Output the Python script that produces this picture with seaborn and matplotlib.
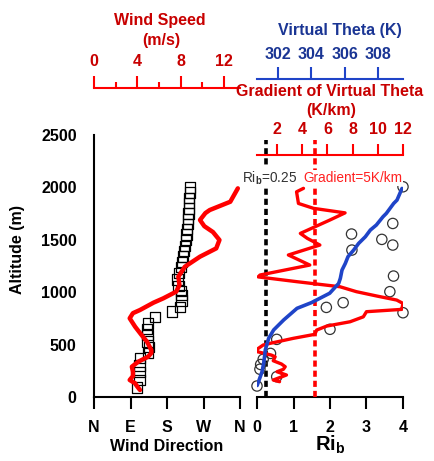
import matplotlib
matplotlib.use("Agg")
import matplotlib.pyplot as plt
from matplotlib.ticker import FixedLocator
import pandas as pd
import seaborn as sns

# ---------------- data ----------------
# wind direction profile (degrees from north)
dir_alt = [90, 160, 240, 300, 370, 420, 480, 530, 590, 650, 700, 765, 815, 860,
           920, 970, 1010, 1060, 1120, 1180, 1240, 1290, 1340, 1390, 1440, 1500,
           1550, 1600, 1650, 1700, 1750, 1800, 1850, 1900, 1950, 2000]
dir_deg = [106, 112, 112, 112, 113, 133, 136, 132, 132, 130, 134, 150, 192, 212,
           216, 216, 214, 208, 206, 210, 214, 217, 219, 222, 224, 227,
           228, 229, 231, 231, 233, 234, 234, 235, 236, 236]

# wind speed profile (m/s)
ws_alt = [67, 100, 131, 162, 200, 241, 289, 337, 384, 420, 448, 528, 591, 671,
          751, 800, 830, 900, 941, 1005, 1068, 1148, 1243, 1339, 1418, 1498,
          1574, 1630, 1689, 1755, 1784, 1863, 1991]
ws_val = [4.25, 4.0, 3.8, 3.3, 3.6, 3.6, 3.5, 4.1, 5.0, 5.3, 5.3, 4.9, 4.4, 3.8,
          3.3, 3.6, 4.25, 5.5, 6.4, 7.6, 7.9, 7.8, 8.4, 9.8, 11.3, 11.6,
          11.0, 10.2, 9.8, 10.3, 10.7, 12.6, 13.3]

# bulk Richardson number
ri_alt = [105, 194, 265, 310, 360, 416, 550, 646, 804, 855, 900, 1005, 1154,
          1402, 1450, 1504, 1555, 1656, 2006]
ri_val = [0.0, 0.54, 0.08, 0.10, 0.17, 0.37, 0.54, 2.0, 4.0, 1.9, 2.36, 3.64,
          3.74, 2.6, 3.72, 3.42, 2.59, 3.72, 4.0]

# virtual potential temperature (K)
th_alt = [110, 240, 320, 450, 560, 640, 735, 846, 900, 990, 1084, 1132, 1211,
          1275, 1339, 1402, 1466, 1529, 1593, 1641, 1720, 1752, 1847, 1879, 1990]
th_val = [300.75, 301.04, 301.14, 301.24, 301.44, 301.74, 302.34, 303.14, 304.0,
          305.1, 305.64, 305.74, 305.84, 306.04, 306.2, 306.54, 306.84, 307.24,
          307.54, 307.9, 308.3, 308.5, 308.94, 309.14, 309.44]

# gradient of virtual potential temperature (K/km)
gr_alt = [146, 162, 210, 241, 264, 289, 315, 346, 384, 400, 432, 454, 496, 512,
          560, 598, 639, 677, 718, 765, 814, 836, 893, 925, 964, 1005, 1052,
          1100, 1146, 1164, 1259, 1355, 1450, 1514, 1561, 1689, 1757, 1800,
          1847, 1958, 1991]
gr_val = [2.2, 1.7, 2.75, 2.0, 2.5, 2.65, 2.35, 1.7, 1.85, 1.55, 0.45, 0.4, 0.9,
          1.45, 3.3, 5.0, 5.15, 5.95, 7.8, 8.85, 9.1, 11.9, 12.0, 11.5, 9.9,
          8.3, 7.0, 3.6, 0.5, 0.65, 4.6, 2.9, 5.4, 4.4, 3.85, 6.2, 7.4, 4.9,
          3.7, 3.55, 4.1]

# reference thresholds
ri_crit = 0.25
grad_crit = 5.0
ref_top = 2450

dir_ticks = [0, 90, 180, 270, 360]
dir_labels = ["N", "E", "S", "W", "N"]
alt_ticks = [0, 500, 1000, 1500, 2000, 2500]
ws_ticks = [0, 4, 8, 12]
ws_minor = [2, 6, 10]
ri_ticks = [0, 1, 2, 3, 4]
th_ticks = [302, 304, 306, 308]
gr_ticks = [2, 4, 6, 8, 10, 12]

df_dir = pd.DataFrame({"alt": dir_alt, "deg": dir_deg})
df_ws = pd.DataFrame({"alt": ws_alt, "ws": ws_val})
df_ri = pd.DataFrame({"alt": ri_alt, "ri": ri_val})
df_th = pd.DataFrame({"alt": th_alt, "th": th_val})
df_gr = pd.DataFrame({"alt": gr_alt, "gr": gr_val})

# ---------------- style ----------------
sns.set_theme(style="white")
plt.rcParams["font.family"] = ["Liberation Sans", "DejaVu Sans"]
plt.rcParams["font.weight"] = "bold"
plt.rcParams["mathtext.fontset"] = "custom"
plt.rcParams["mathtext.rm"] = "Liberation Sans"
plt.rcParams["mathtext.bf"] = "Liberation Sans:bold"
plt.rcParams["mathtext.it"] = "Liberation Sans:italic"

RED = "#ff0000"
DRED = "#c80000"
BLUE = "#1f44c8"
DBLUE = "#1a3594"
FS = 11.5

W, H = 435, 461
fig = plt.figure(figsize=(W / 100, H / 100), dpi=100)


def fx(px):
    return px / W


def fy(py):
    return 1 - py / H


Y0, Y1 = 397, 135
AH = Y0 - Y1


def spine_pos(py):
    return (Y0 - py) / AH


axL = fig.add_axes([fx(94), fy(Y0), (240 - 94) / W, AH / H])
axR = fig.add_axes([fx(257), fy(Y0), (403 - 257) / W, AH / H])

for ax in (axL, axR):
    ax.set_facecolor("none")
    for s in ("top", "right"):
        ax.spines[s].set_visible(False)
    ax.spines["bottom"].set_linewidth(1.5)
    ax.spines["left"].set_linewidth(1.5)
    ax.spines["bottom"].set_color("black")
    ax.spines["left"].set_color("black")
    ax.set_ylim(0, 2500)
    ax.tick_params(axis="both", direction="out", length=8.5, width=1.5,
                   labelsize=FS, colors="black", pad=8)

# ---- left panel: wind direction + wind speed ----
sns.scatterplot(data=df_dir, x="deg", y="alt", ax=axL, marker="s", s=55,
                facecolor="none", edgecolor="black", linewidth=0.9, zorder=3)
axL.set_xlim(0, 360)
axL.set_xticks(dir_ticks)
axL.set_xticklabels(dir_labels)
axL.set_yticks(alt_ticks)
axL.tick_params(axis="y", pad=4)
axL.set_xlabel("")
axL.set_ylabel("")

axWS = axL.twiny()
sns.lineplot(data=df_ws, x="ws", y="alt", ax=axWS, sort=False, estimator=None,
             color=RED, linewidth=3.2, zorder=4)
axWS.set_xlim(0, 13.5)
axWS.set_ylim(0, 2500)
for s in ("left", "right", "bottom"):
    axWS.spines[s].set_visible(False)
axWS.spines["top"].set_position(("axes", spine_pos(88)))
axWS.spines["top"].set_color(RED)
axWS.spines["top"].set_linewidth(1.5)
axWS.xaxis.set_major_locator(FixedLocator(ws_ticks))
axWS.xaxis.set_minor_locator(FixedLocator(ws_minor))
axWS.tick_params(axis="x", which="major", direction="out", length=8.5, width=1.5,
                 color=RED, labelcolor=DRED, labelsize=FS, pad=5)
axWS.tick_params(axis="x", which="minor", direction="out", length=4.5, width=1.5,
                 color=RED)
axWS.set_xlabel("")
axWS.set_ylabel("")
axWS.tick_params(axis="y", left=False, right=False, labelleft=False, labelright=False)

# ---- right panel: Ri, gradient and virtual theta ----
axR.spines["left"].set_visible(False)
axR.tick_params(axis="y", left=False, labelleft=False)
axR.set_xlim(0, 4)
axR.set_xticks(ri_ticks)
axR.vlines(ri_crit, 0, ref_top, colors="black", linewidth=2.6,
           linestyles=(0, (1.7, 1.1)), zorder=2)
sns.scatterplot(data=df_ri, x="ri", y="alt", ax=axR, marker="o", s=55,
                facecolor="none", edgecolor="#333333", linewidth=0.9, zorder=5,
                clip_on=False)
axR.set_xlabel("")
axR.set_ylabel("")

axG = axR.twiny()
sns.lineplot(data=df_gr, x="gr", y="alt", ax=axG, sort=False, estimator=None,
             color=RED, linewidth=2.4, zorder=3)
axG.vlines(grad_crit, 0, ref_top, colors=RED, linewidth=2.6,
           linestyles=(0, (1.7, 1.1)), zorder=2)
axG.set_xlim(0.41, 12)
axG.set_ylim(0, 2500)
for s in ("left", "right", "bottom"):
    axG.spines[s].set_visible(False)
axG.spines["top"].set_position(("axes", spine_pos(155)))
axG.spines["top"].set_color(RED)
axG.spines["top"].set_linewidth(1.5)
axG.xaxis.set_major_locator(FixedLocator(gr_ticks))
axG.tick_params(axis="x", direction="out", length=8, width=1.5, color=RED,
                labelcolor=DRED, labelsize=FS, pad=5)
axG.tick_params(axis="y", left=False, right=False, labelleft=False, labelright=False)
axG.set_xlabel("")
axG.set_ylabel("")

axT = axR.twiny()
sns.lineplot(data=df_th, x="th", y="alt", ax=axT, sort=False, estimator=None,
             color=BLUE, linewidth=2.6, zorder=4)
axT.set_xlim(300.74, 309.5)
axT.set_ylim(0, 2500)
for s in ("left", "right", "bottom"):
    axT.spines[s].set_visible(False)
axT.spines["top"].set_position(("axes", spine_pos(79)))
axT.spines["top"].set_color(BLUE)
axT.spines["top"].set_linewidth(1.5)
axT.xaxis.set_major_locator(FixedLocator(th_ticks))
axT.tick_params(axis="x", direction="out", length=8.5, width=1.5, color=BLUE,
                labelcolor=DBLUE, labelsize=FS, pad=4)
axT.tick_params(axis="y", left=False, right=False, labelleft=False, labelright=False)
axT.set_xlabel("")
axT.set_ylabel("")

# ---------------- titles & labels ----------------
fig.text(fx(160), fy(21), "Wind Speed", color=DRED, fontsize=FS,
         fontweight="bold", ha="center", va="center")
fig.text(fx(161), fy(40), "(m/s)", color=DRED, fontsize=FS,
         fontweight="bold", ha="center", va="center")
fig.text(fx(340), fy(31), "Virtual Theta (K)", color=DBLUE, fontsize=FS,
         fontweight="bold", ha="center", va="center")
fig.text(fx(330), fy(91), "Gradient of Virtual Theta", color=DRED, fontsize=FS,
         fontweight="bold", ha="center", va="center")
fig.text(fx(331), fy(110), "(K/km)", color=DRED, fontsize=FS,
         fontweight="bold", ha="center", va="center")
fig.text(fx(18), fy(249), "Altitude (m)", color="black", fontsize=FS,
         fontweight="bold", ha="center", va="center", rotation=90)
fig.text(fx(167), fy(446), "Wind Direction", color="black", fontsize=FS,
         fontweight="bold", ha="center", va="center")
fig.text(fx(330), fy(445), r"Ri$_{\mathbf{b}}$", color="black", fontsize=14.5,
         fontweight="bold", ha="center", va="center")

box = dict(facecolor="white", edgecolor="none", pad=1.0)
fig.text(fx(242), fy(178), r"Ri$_{\mathrm{b}}$=0.25", color="#333333",
         fontsize=9.8, fontweight="normal", ha="left", va="center", bbox=box,
         zorder=10)
fig.text(fx(303), fy(178), "Gradient=5K/km", color="#ff2020",
         fontsize=9.8, fontweight="normal", ha="left", va="center", bbox=box,
         zorder=10)

fig.savefig("out.png", dpi=100)
